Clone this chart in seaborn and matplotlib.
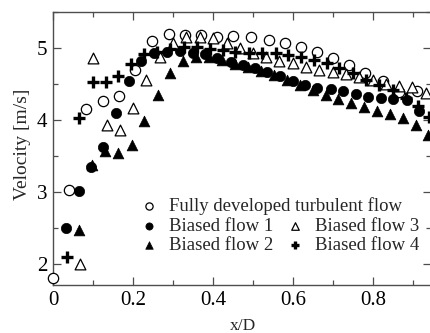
import matplotlib
matplotlib.use("Agg")
import matplotlib.pyplot as plt
from matplotlib.ticker import FixedLocator, FixedFormatter, MultipleLocator
import seaborn as sns

# Streamwise velocity profiles across the pipe, x/D vs velocity [m/s]
x_fully = [0.0, 0.04, 0.0825, 0.125, 0.165, 0.205, 0.2475, 0.29, 0.33, 0.37,
           0.41, 0.45, 0.495, 0.54, 0.58, 0.62, 0.66, 0.70, 0.74, 0.78,
           0.825, 0.865, 0.91]
v_fully = [1.81, 3.03, 4.15, 4.26, 4.33, 4.69, 5.10, 5.19, 5.18, 5.18,
           5.15, 5.17, 5.15, 5.11, 5.07, 5.01, 4.94, 4.86, 4.76, 4.65,
           4.54, 4.39, 4.40]

x_b1 = [0.0325, 0.065, 0.095, 0.125, 0.1575, 0.19, 0.22, 0.2525, 0.285, 0.3175,
        0.35, 0.38, 0.41, 0.445, 0.475, 0.505, 0.535, 0.5675, 0.60, 0.63,
        0.66, 0.695, 0.725, 0.7575, 0.7875, 0.82, 0.85, 0.885, 0.915]
v_b1 = [2.50, 3.01, 3.35, 3.625, 4.10, 4.54, 4.82, 4.93, 4.94, 4.96,
        4.93, 4.92, 4.86, 4.81, 4.76, 4.72, 4.67, 4.61, 4.54, 4.49,
        4.44, 4.43, 4.40, 4.36, 4.32, 4.31, 4.29, 4.28, 4.125]

x_b2 = [0.065, 0.0975, 0.13, 0.1625, 0.1975, 0.2275, 0.2625, 0.2925, 0.325, 0.3575,
        0.39, 0.4225, 0.455, 0.4875, 0.52, 0.5525, 0.585, 0.6175, 0.65, 0.6825,
        0.7125, 0.745, 0.7775, 0.81, 0.8425, 0.875, 0.9075, 0.9375]
v_b2 = [2.47, 3.375, 3.57, 3.54, 3.65, 3.99, 4.35, 4.65, 4.82, 4.875,
        4.875, 4.83, 4.78, 4.74, 4.68, 4.625, 4.555, 4.49, 4.42, 4.35,
        4.29, 4.24, 4.18, 4.125, 4.08, 4.03, 3.93, 3.79]

x_b3 = [0.0675, 0.10, 0.135, 0.1675, 0.20, 0.2325, 0.2675, 0.30, 0.3325, 0.3675,
        0.40, 0.435, 0.4675, 0.50, 0.5325, 0.565, 0.60, 0.6325, 0.665, 0.70,
        0.7325, 0.765, 0.80, 0.8325, 0.865, 0.8975, 0.9325]
v_b3 = [2.00, 4.86, 3.93, 3.86, 4.17, 4.56, 4.875, 5.07, 5.15, 5.15,
        5.14, 5.07, 5.00, 4.93, 4.875, 4.82, 4.79, 4.74, 4.69, 4.67,
        4.64, 4.60, 4.56, 4.50, 4.47, 4.46, 4.375]

x_b4 = [0.035, 0.065, 0.10, 0.1325, 0.1625, 0.195, 0.2275, 0.26, 0.2925, 0.3275,
        0.36, 0.3925, 0.425, 0.455, 0.49, 0.5225, 0.5575, 0.5875, 0.62, 0.6525,
        0.685, 0.715, 0.75, 0.7825, 0.815, 0.85, 0.8825, 0.9125, 0.94]
v_b4 = [2.10, 4.03, 4.53, 4.53, 4.61, 4.78, 4.92, 4.94, 4.99, 5.01,
        5.01, 4.99, 4.97, 4.94, 4.93, 4.93, 4.93, 4.90, 4.875, 4.83,
        4.79, 4.72, 4.65, 4.56, 4.49, 4.42, 4.31, 4.19, 4.04]

series_labels = ["Fully developed turbulent flow", "Biased flow 1", "Biased flow 2",
                 "Biased flow 3", "Biased flow 4"]

x_ticks = [0.0, 0.2, 0.4, 0.6, 0.8]
x_tick_labels = ["0", "0.2", "0.4", "0.6", "0.8"]
y_ticks = [2, 3, 4, 5]
y_tick_labels = ["2", "3", "4", "5"]

sns.set_theme(style="ticks")
plt.rcParams["font.family"] = ["Liberation Serif", "DejaVu Serif"]

fig = plt.figure(figsize=(4.31, 3.33), dpi=100)
ax = fig.add_axes([53 / 431, 48 / 333, 378 / 431, 273 / 333])

marker_styles = [
    dict(marker="o", s=55, facecolor="white", edgecolor="black", linewidth=0.9),
    dict(marker="o", s=55, facecolor="black", edgecolor="black", linewidth=0.5),
    dict(marker="^", s=60, facecolor="black", edgecolor="black", linewidth=0.5),
    dict(marker="^", s=60, facecolor="white", edgecolor="black", linewidth=0.9),
    dict(marker="+", s=80, color="black", linewidth=2.4),
]
data = [(x_fully, v_fully), (x_b1, v_b1), (x_b2, v_b2), (x_b3, v_b3), (x_b4, v_b4)]

for (xs, vs), label, kw in zip(data, series_labels, marker_styles):
    sns.scatterplot(x=xs, y=vs, ax=ax, label=label, legend=False,
                    clip_on=False, zorder=3, **kw)

ax.set_xlim(0, 0.945)
ax.set_ylim(1.71, 5.5)
ax.xaxis.set_major_locator(FixedLocator(x_ticks))
ax.xaxis.set_major_formatter(FixedFormatter(x_tick_labels))
ax.xaxis.set_minor_locator(MultipleLocator(0.1))
ax.yaxis.set_major_locator(FixedLocator(y_ticks))
ax.yaxis.set_major_formatter(FixedFormatter(y_tick_labels))
ax.yaxis.set_minor_locator(MultipleLocator(0.5))

spine_color = "0.3"
ax.tick_params(which="both", direction="in", top=True, right=True,
               color=spine_color, labelsize=15, labelcolor="black")
ax.tick_params(which="major", length=6, width=0.9, pad=4)
ax.tick_params(which="minor", length=3.5, width=0.9)
for side in ["left", "bottom", "top"]:
    ax.spines[side].set_color(spine_color)
    ax.spines[side].set_linewidth(1.0)
ax.spines["right"].set_visible(False)

ax.set_xlabel("x/D", fontsize=12.5)
ax.set_ylabel("Velocity [m/s]", fontsize=14)
ax.xaxis.set_label_coords((243 - 53) / 378, (285 - 318) / 273)
ax.yaxis.set_label_coords((31 - 53) / 378, (285 - 144) / 273)

handles = list(ax.collections)
leg_kw = dict(frameon=False, fontsize=13.5, handlelength=1.0, handletextpad=0.57,
              borderpad=0, borderaxespad=0, markerscale=0.7, loc="center left")
fig.legend(handles[:1], series_labels[:1],
           bbox_to_anchor=(139.6 / 431, 1 - 206 / 333), **leg_kw)
fig.legend(handles[1:], series_labels[1:], ncol=2, columnspacing=0.67,
           labelspacing=0.1, bbox_to_anchor=(139.6 / 431, 1 - 236 / 333), **leg_kw)

fig.savefig("out.png", dpi=100)
